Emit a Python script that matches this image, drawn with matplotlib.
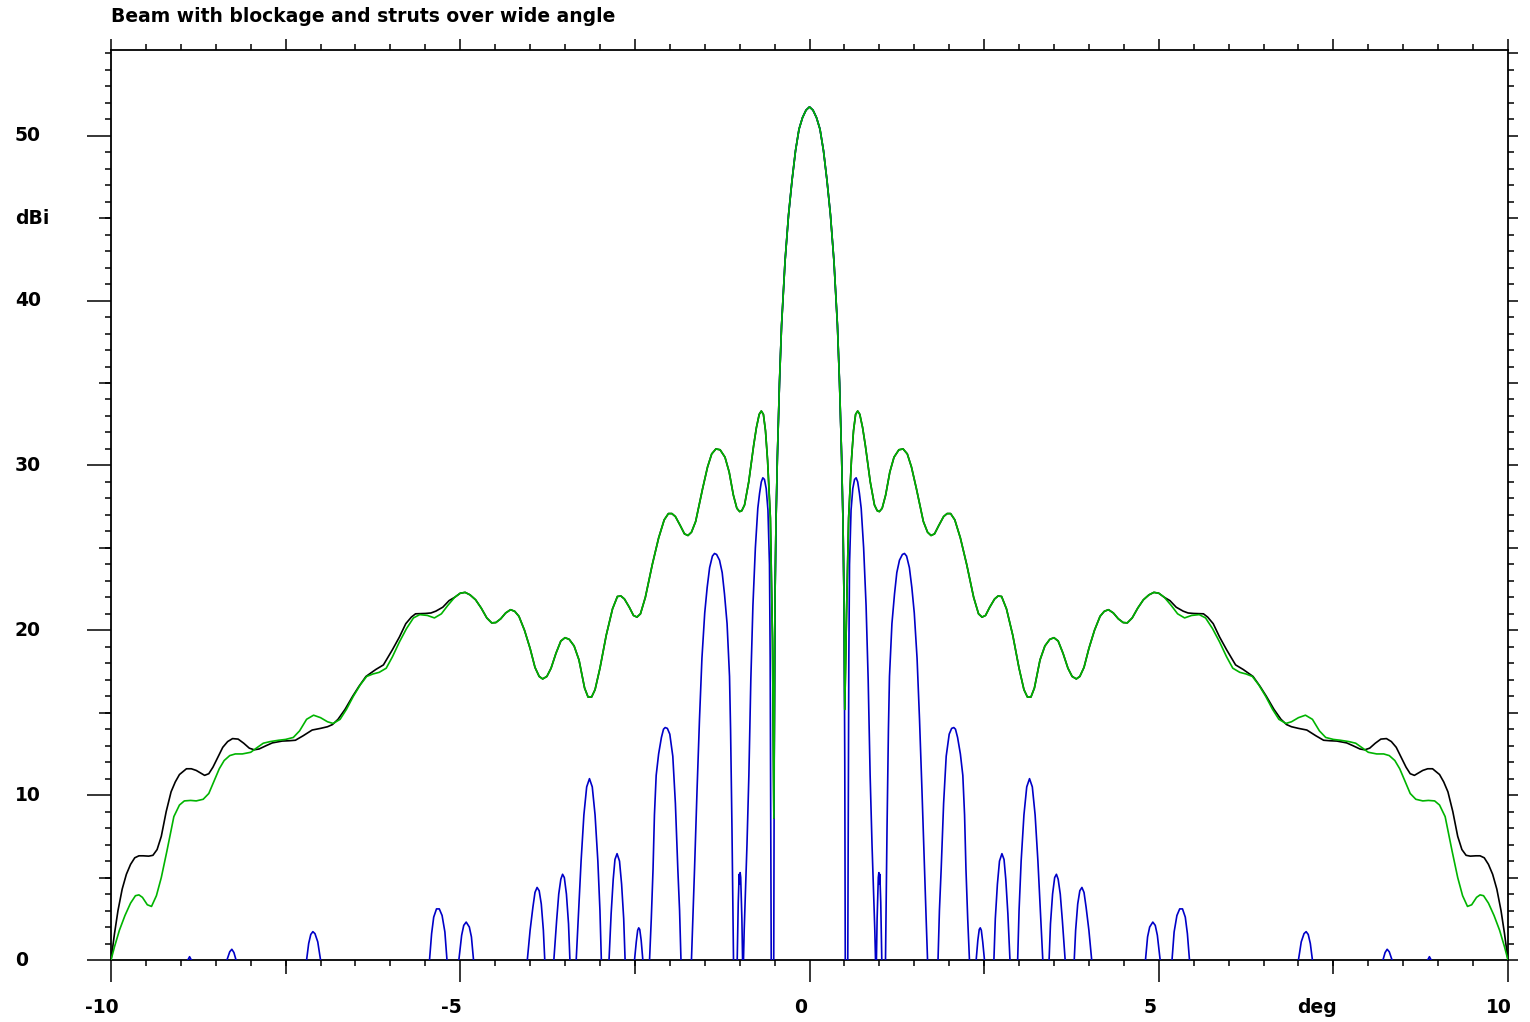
import matplotlib
matplotlib.use("Agg")
import matplotlib.pyplot as plt
from matplotlib.ticker import MultipleLocator, FixedLocator
from matplotlib.transforms import blended_transform_factory, offset_copy

nan = float("nan")

TITLE = "Beam with blockage and struts over wide angle"
X_LABELS = [-10, -5, 0, 5, 10]
Y_LABELS = [0, 10, 20, 30, 40, 50]

# central part, where blockage-only and blockage+struts patterns coincide
CORE_DEG = [
    -5.08, -5.00, -4.93, -4.86, -4.78, -4.70, -4.62, -4.55,
    -4.49, -4.42, -4.35, -4.28, -4.22, -4.16, -4.08, -4.00,
    -3.93, -3.87, -3.82, -3.76, -3.70, -3.63, -3.56, -3.50,
    -3.44, -3.37, -3.30, -3.22, -3.17, -3.12, -3.07, -3.00,
    -2.91, -2.82, -2.75, -2.70, -2.65, -2.58, -2.52, -2.47,
    -2.42, -2.35, -2.25, -2.16, -2.08, -2.02, -1.97, -1.92,
    -1.85, -1.79, -1.74, -1.69, -1.63, -1.53, -1.46, -1.40,
    -1.34, -1.28, -1.21, -1.15, -1.09, -1.04, -1.00, -0.97,
    -0.93, -0.87, -0.80, -0.76, -0.72, -0.69, -0.66, -0.63,
    -0.60, -0.56, -0.53, -0.51, -0.495, -0.48, -0.46, -0.43,
    -0.40, -0.35, -0.30, -0.25, -0.20, -0.15, -0.10, -0.05,
    0.00,
    0.05, 0.10, 0.15, 0.20, 0.25, 0.30, 0.35, 0.40,
    0.43, 0.46, 0.48, 0.495, 0.505, 0.53, 0.56, 0.60,
    0.63, 0.66, 0.69, 0.72, 0.76, 0.80, 0.87, 0.93,
    0.97, 1.00, 1.04, 1.09, 1.15, 1.21, 1.28, 1.34,
    1.40, 1.46, 1.53, 1.63, 1.69, 1.74, 1.79, 1.85,
    1.92, 1.97, 2.02, 2.08, 2.16, 2.25, 2.35, 2.42,
    2.47, 2.52, 2.58, 2.65, 2.70, 2.75, 2.82, 2.91,
    3.00, 3.07, 3.12, 3.17, 3.22, 3.30, 3.37, 3.44,
    3.50, 3.56, 3.63, 3.70, 3.76, 3.82, 3.87, 3.93,
    4.00, 4.08, 4.16, 4.22, 4.28, 4.35, 4.42, 4.49,
    4.55, 4.62, 4.70, 4.78, 4.86, 4.93, 5.00, 5.08,
]
CORE_DBI = [
    22.0, 22.25, 22.3, 22.15, 21.85, 21.35, 20.75, 20.45,
    20.47, 20.7, 21.05, 21.25, 21.15, 20.85, 20.0, 18.9,
    17.75, 17.2, 17.05, 17.2, 17.7, 18.6, 19.35, 19.55,
    19.45, 19.05, 18.2, 16.5, 15.95, 15.95, 16.4, 17.7,
    19.7, 21.3, 22.05, 22.08, 21.9, 21.4, 20.9, 20.8,
    21.0, 22.0, 24.0, 25.6, 26.7, 27.08, 27.08, 26.9,
    26.35, 25.85, 25.75, 25.95, 26.6, 28.6, 29.9, 30.7,
    31.0, 30.95, 30.5, 29.6, 28.2, 27.4, 27.2, 27.25,
    27.6, 29.0, 31.2, 32.3, 33.1, 33.3, 33.1, 32.1,
    30.3, 26.8, 19.5, 8.6, 21.5, 26.5, 30.5, 35.0,
    38.5, 42.4, 45.2, 47.3, 49.1, 50.4, 51.1, 51.55,
    51.75,
    51.55, 51.1, 50.4, 49.1, 47.3, 45.2, 42.4, 38.5,
    35.0, 30.5, 26.5, 21.5, 15.2, 21.0, 26.8, 30.3,
    32.1, 33.1, 33.3, 33.1, 32.3, 31.2, 29.0, 27.6,
    27.25, 27.2, 27.4, 28.2, 29.6, 30.5, 30.95, 31.0,
    30.7, 29.9, 28.6, 26.6, 25.95, 25.75, 25.85, 26.35,
    26.9, 27.08, 27.08, 26.7, 25.6, 24.0, 22.0, 21.0,
    20.8, 20.9, 21.4, 21.9, 22.08, 22.05, 21.3, 19.7,
    17.7, 16.4, 15.95, 15.95, 16.5, 18.2, 19.05, 19.45,
    19.55, 19.35, 18.6, 17.7, 17.2, 17.05, 17.2, 17.75,
    18.9, 20.0, 20.85, 21.15, 21.25, 21.05, 20.7, 20.47,
    20.45, 20.75, 21.35, 21.85, 22.15, 22.3, 22.25, 22.0,
]

# beam with blockage only (green), outer parts
GREEN_LEFT_DEG = [
    -10.00, -9.95, -9.88, -9.80, -9.72, -9.65, -9.60, -9.55,
    -9.48, -9.42, -9.35, -9.28, -9.20, -9.10, -9.02, -8.95,
    -8.86, -8.78, -8.68, -8.60, -8.53, -8.45, -8.38, -8.30,
    -8.22, -8.12, -8.00, -7.92, -7.82, -7.72, -7.60, -7.50,
    -7.39, -7.30, -7.20, -7.10, -7.00, -6.90, -6.82, -6.72,
    -6.63, -6.53, -6.43, -6.34, -6.25, -6.16, -6.06, -5.97,
    -5.87, -5.77, -5.67, -5.58, -5.47, -5.37, -5.27, -5.18,
]
GREEN_LEFT_DBI = [
    0.0, 0.8, 1.8, 2.7, 3.45, 3.9, 3.95, 3.8,
    3.35, 3.25, 3.9, 5.0, 6.6, 8.7, 9.4, 9.65,
    9.68, 9.65, 9.75, 10.1, 10.8, 11.6, 12.1, 12.4,
    12.5, 12.5, 12.6, 12.85, 13.15, 13.25, 13.33, 13.38,
    13.5, 13.9, 14.6, 14.85, 14.7, 14.45, 14.35, 14.6,
    15.2, 16.0, 16.7, 17.2, 17.35, 17.45, 17.7, 18.4,
    19.3, 20.1, 20.75, 20.95, 20.9, 20.75, 21.0, 21.5,
]
GREEN_RIGHT_DEG = [
    5.18, 5.27, 5.37, 5.47, 5.58, 5.67, 5.77, 5.87,
    5.97, 6.06, 6.16, 6.25, 6.34, 6.43, 6.53, 6.63,
    6.72, 6.82, 6.90, 7.00, 7.10, 7.20, 7.30, 7.39,
    7.50, 7.60, 7.72, 7.82, 7.92, 8.00, 8.12, 8.22,
    8.30, 8.38, 8.45, 8.53, 8.60, 8.68, 8.78, 8.86,
    8.95, 9.02, 9.10, 9.20, 9.28, 9.35, 9.42, 9.48,
    9.55, 9.60, 9.65, 9.72, 9.80, 9.88, 9.95, 10.00,
]
GREEN_RIGHT_DBI = [
    21.5, 21.0, 20.75, 20.9, 20.95, 20.75, 20.1, 19.3,
    18.4, 17.7, 17.45, 17.35, 17.2, 16.7, 16.0, 15.2,
    14.6, 14.35, 14.45, 14.7, 14.85, 14.6, 13.9, 13.5,
    13.38, 13.33, 13.25, 13.15, 12.85, 12.6, 12.5, 12.5,
    12.4, 12.1, 11.6, 10.8, 10.1, 9.75, 9.65, 9.68,
    9.65, 9.4, 8.7, 6.6, 5.0, 3.9, 3.25, 3.35,
    3.8, 3.95, 3.9, 3.45, 2.7, 1.8, 0.8, 0.0,
]

# beam with blockage and struts (black), outer parts
BLACK_LEFT_DEG = [
    -10.00, -9.95, -9.90, -9.84, -9.78, -9.72, -9.66, -9.60,
    -9.54, -9.46, -9.40, -9.34, -9.28, -9.21, -9.14, -9.08,
    -9.02, -8.92, -8.85, -8.78, -8.66, -8.60, -8.54, -8.47,
    -8.40, -8.33, -8.26, -8.18, -8.10, -8.02, -7.95, -7.88,
    -7.78, -7.69, -7.55, -7.45, -7.36, -7.25, -7.12, -7.00,
    -6.90, -6.83, -6.75, -6.65, -6.54, -6.45, -6.35, -6.21,
    -6.10, -5.97, -5.87, -5.78, -5.70, -5.64, -5.50, -5.42,
    -5.35, -5.25, -5.16,
]
BLACK_LEFT_DBI = [
    0.0, 1.6, 3.0, 4.3, 5.2, 5.8, 6.2, 6.32,
    6.32, 6.3, 6.35, 6.7, 7.5, 9.0, 10.2, 10.8,
    11.25, 11.6, 11.6, 11.5, 11.2, 11.3, 11.7, 12.3,
    12.9, 13.25, 13.43, 13.4, 13.15, 12.85, 12.75, 12.8,
    13.0, 13.17, 13.28, 13.3, 13.33, 13.6, 13.95, 14.05,
    14.15, 14.28, 14.6, 15.2, 16.0, 16.6, 17.2, 17.62,
    17.9, 18.83, 19.6, 20.4, 20.8, 21.0, 21.02, 21.05,
    21.16, 21.4, 21.8,
]
BLACK_RIGHT_DEG = [
    5.16, 5.25, 5.35, 5.42, 5.50, 5.64, 5.70, 5.78,
    5.87, 5.97, 6.10, 6.21, 6.35, 6.45, 6.54, 6.65,
    6.75, 6.83, 6.90, 7.00, 7.12, 7.25, 7.36, 7.45,
    7.55, 7.69, 7.78, 7.88, 7.95, 8.02, 8.10, 8.18,
    8.26, 8.33, 8.40, 8.47, 8.54, 8.60, 8.66, 8.78,
    8.85, 8.92, 9.02, 9.08, 9.14, 9.21, 9.28, 9.34,
    9.40, 9.46, 9.54, 9.60, 9.66, 9.72, 9.78, 9.84,
    9.90, 9.95, 10.00,
]
BLACK_RIGHT_DBI = [
    21.8, 21.4, 21.16, 21.05, 21.02, 21.0, 20.8, 20.4,
    19.6, 18.83, 17.9, 17.62, 17.2, 16.6, 16.0, 15.2,
    14.6, 14.28, 14.15, 14.05, 13.95, 13.6, 13.33, 13.3,
    13.28, 13.17, 13.0, 12.8, 12.75, 12.85, 13.15, 13.4,
    13.43, 13.25, 12.9, 12.3, 11.7, 11.3, 11.2, 11.5,
    11.6, 11.6, 11.25, 10.8, 10.2, 9.0, 7.5, 6.7,
    6.35, 6.3, 6.32, 6.32, 6.2, 5.8, 5.2, 4.3,
    3.0, 1.6, 0.0,
]

# unblocked aperture (blue), lobes separated where the pattern drops below 0 dBi
BLUE_DEG = [
    -8.90, -8.875, -8.85, nan,
    -8.34, -8.30, -8.27, -8.24, -8.21, nan,
    -7.20, -7.17, -7.14, -7.11, -7.08, -7.04, -7.00, nan,
    -5.44, -5.41, -5.38, -5.34, -5.30, -5.26, -5.22, -5.19, nan,
    -5.02, -4.98, -4.95, -4.915, -4.87, -4.84, -4.81, nan,
    -4.04, -4.00, -3.96, -3.93, -3.90, -3.87, -3.84, -3.81, -3.79, nan,
    -3.66, -3.62, -3.59, -3.56, -3.535, -3.51, -3.48, -3.45, -3.43, nan,
    -3.34, -3.30, -3.27, -3.23, -3.19, -3.15, -3.11, -3.07, -3.03, -3.00, -2.98, nan,
    -2.87, -2.84, -2.81, -2.785, -2.755, -2.72, -2.69, -2.66, -2.64, nan,
    -2.505, -2.48, -2.46, -2.445, -2.43, -2.41, -2.386, nan,
    -2.29, -2.265, -2.24, -2.22, -2.195, -2.16, -2.12, -2.09, -2.066, -2.035, -2.00, -1.957, -1.92, -1.885, -1.86, -1.84, nan,
    -1.69, -1.67, -1.646, -1.61, -1.575, -1.54, -1.50, -1.465, -1.43, -1.39, -1.36, -1.33, -1.288, -1.25, -1.217, -1.18, -1.145, -1.13, -1.11, -1.088, nan,
    -1.035, -1.02, -1.007, -1.00, -0.993, -0.985, -0.968, -0.958, nan,
    -0.945, -0.935, -0.916, -0.895, -0.868, -0.84, -0.81, -0.775, -0.74, -0.715, -0.69, -0.668, -0.645, -0.62, -0.595, -0.573, -0.563, -0.556, -0.548, nan,
    -0.512, -0.505, -0.495, -0.48, -0.46, -0.43, -0.40, -0.35, -0.30, -0.25, -0.20, -0.15, -0.10, -0.05, 0.00,
    0.05, 0.10, 0.15, 0.20, 0.25, 0.30, 0.35, 0.40, 0.43, 0.46, 0.48, 0.495, 0.505, 0.512, nan,
    0.548, 0.556, 0.563, 0.573, 0.595, 0.62, 0.645, 0.668, 0.69, 0.715, 0.74, 0.775, 0.81, 0.84, 0.868, 0.895, 0.916, 0.935, 0.945, nan,
    0.958, 0.968, 0.985, 0.993, 1.00, 1.007, 1.02, 1.035, nan,
    1.088, 1.11, 1.13, 1.145, 1.18, 1.217, 1.25, 1.288, 1.33, 1.36, 1.39, 1.43, 1.465, 1.50, 1.54, 1.575, 1.61, 1.646, 1.67, 1.69, nan,
    1.84, 1.86, 1.885, 1.92, 1.957, 2.00, 2.035, 2.066, 2.09, 2.12, 2.16, 2.195, 2.22, 2.24, 2.265, 2.29, nan,
    2.386, 2.41, 2.43, 2.445, 2.46, 2.48, 2.505, nan,
    2.64, 2.66, 2.69, 2.72, 2.755, 2.785, 2.81, 2.84, 2.87, nan,
    2.98, 3.00, 3.03, 3.07, 3.11, 3.15, 3.19, 3.23, 3.27, 3.30, 3.34, nan,
    3.43, 3.45, 3.48, 3.51, 3.535, 3.56, 3.59, 3.62, 3.66, nan,
    3.79, 3.81, 3.84, 3.87, 3.90, 3.93, 3.96, 4.00, 4.04, nan,
    4.81, 4.84, 4.87, 4.915, 4.95, 4.98, 5.02, nan,
    5.19, 5.22, 5.26, 5.30, 5.34, 5.38, 5.41, 5.44, nan,
    7.00, 7.04, 7.08, 7.11, 7.14, 7.17, 7.20, nan,
    8.21, 8.24, 8.27, 8.30, 8.34, nan,
    8.85, 8.875, 8.90,
]
BLUE_DBI = [
    0.0, 0.2, 0.0, nan,
    0.0, 0.5, 0.65, 0.45, 0.0, nan,
    0.0, 1.0, 1.55, 1.72, 1.6, 1.1, 0.0, nan,
    0.0, 1.6, 2.6, 3.1, 3.1, 2.7, 1.7, 0.0, nan,
    0.0, 1.5, 2.1, 2.3, 2.0, 1.4, 0.0, nan,
    0.0, 1.8, 3.2, 4.1, 4.4, 4.2, 3.4, 1.8, 0.0, nan,
    0.0, 2.4, 4.0, 4.9, 5.2, 5.0, 4.0, 2.2, 0.0, nan,
    0.0, 3.4, 6.0, 8.8, 10.5, 11.0, 10.5, 8.8, 6.0, 3.0, 0.0, nan,
    0.0, 2.8, 4.9, 6.1, 6.45, 6.0, 4.6, 2.5, 0.0, nan,
    0.0, 1.1, 1.8, 1.95, 1.85, 1.2, 0.0, nan,
    0.0, 2.5, 5.5, 8.8, 11.2, 12.5, 13.5, 14.0, 14.1, 14.05, 13.7, 12.36, 9.5, 5.5, 3.0, 0.0, nan,
    0.0, 2.5, 5.5, 10.3, 14.6, 18.3, 21.05, 22.6, 23.8, 24.5, 24.66, 24.6, 24.25, 23.5, 22.2, 20.4, 17.2, 14.0, 8.0, 0.0, nan,
    0.0, 3.5, 5.2, 4.6, 5.3, 5.0, 2.5, 0.0, nan,
    0.0, 1.8, 4.3, 7.0, 11.2, 17.0, 21.5, 25.0, 27.4, 28.3, 29.0, 29.25, 29.15, 28.6, 27.3, 24.0, 18.3, 10.0, 0.0, nan,
    0.0, 12.0, 21.5, 26.5, 30.5, 35.0, 38.5, 42.4, 45.2, 47.3, 49.1, 50.4, 51.1, 51.55, 51.75,
    51.55, 51.1, 50.4, 49.1, 47.3, 45.2, 42.4, 38.5, 35.0, 30.5, 26.5, 21.5, 12.0, 0.0, nan,
    0.0, 10.0, 18.3, 24.0, 27.3, 28.6, 29.15, 29.25, 29.0, 28.3, 27.4, 25.0, 21.5, 17.0, 11.2, 7.0, 4.3, 1.8, 0.0, nan,
    0.0, 2.5, 5.0, 5.3, 4.6, 5.2, 3.5, 0.0, nan,
    0.0, 8.0, 14.0, 17.2, 20.4, 22.2, 23.5, 24.25, 24.6, 24.66, 24.5, 23.8, 22.6, 21.05, 18.3, 14.6, 10.3, 5.5, 2.5, 0.0, nan,
    0.0, 3.0, 5.5, 9.5, 12.36, 13.7, 14.05, 14.1, 14.0, 13.5, 12.5, 11.2, 8.8, 5.5, 2.5, 0.0, nan,
    0.0, 1.2, 1.85, 1.95, 1.8, 1.1, 0.0, nan,
    0.0, 2.5, 4.6, 6.0, 6.45, 6.1, 4.9, 2.8, 0.0, nan,
    0.0, 3.0, 6.0, 8.8, 10.5, 11.0, 10.5, 8.8, 6.0, 3.4, 0.0, nan,
    0.0, 2.2, 4.0, 5.0, 5.2, 4.9, 4.0, 2.4, 0.0, nan,
    0.0, 1.8, 3.4, 4.2, 4.4, 4.1, 3.2, 1.8, 0.0, nan,
    0.0, 1.4, 2.0, 2.3, 2.1, 1.5, 0.0, nan,
    0.0, 1.7, 2.7, 3.1, 3.1, 2.6, 1.6, 0.0, nan,
    0.0, 1.1, 1.6, 1.72, 1.55, 1.0, 0.0, nan,
    0.0, 0.45, 0.65, 0.5, 0.0, nan,
    0.0, 0.2, 0.0,
]

green_deg = GREEN_LEFT_DEG + CORE_DEG + GREEN_RIGHT_DEG
green_dbi = GREEN_LEFT_DBI + CORE_DBI + GREEN_RIGHT_DBI
black_deg = BLACK_LEFT_DEG + CORE_DEG + BLACK_RIGHT_DEG
black_dbi = BLACK_LEFT_DBI + CORE_DBI + BLACK_RIGHT_DBI

W, H = 1530, 1022
TEXT = dict(family="DejaVu Sans", fontweight="bold", fontsize=13.5, color="black")

fig = plt.figure(figsize=(W / 100, H / 100), dpi=100)
ax = fig.add_axes([111 / W, 62 / H, 1397 / W, 910 / H])

ax.plot(black_deg, black_dbi, color="black", lw=1.2, zorder=2)
ax.plot(BLUE_DEG, BLUE_DBI, color="#0000c8", lw=1.2, zorder=3)
ax.plot(green_deg, green_dbi, color="#00b400", lw=1.2, zorder=4)

ax.set_xlim(-10, 10)
ax.set_ylim(0, 55.2)
for sp in ax.spines.values():
    sp.set_linewidth(1.3)

# bottom: long ticks every 5, short every 0.5, medium at the 2.5 marks
ax.xaxis.set_major_locator(FixedLocator(X_LABELS))
ax.xaxis.set_minor_locator(MultipleLocator(0.5))
ax.tick_params(axis="x", which="major", length=15.8, width=1.1, labelbottom=False)
ax.tick_params(axis="x", which="minor", length=4.3, width=1.1)
mid_x = ax.secondary_xaxis("bottom")
mid_x.set_xticks([-7.5, -2.5, 2.5, 7.5])
mid_x.tick_params(length=10, width=1.1, labelbottom=False)
mid_x.spines["bottom"].set_visible(False)

# left: long ticks every 10, medium every 5, short every 1
ax.yaxis.set_major_locator(MultipleLocator(10))
ax.yaxis.set_minor_locator(MultipleLocator(1))
ax.tick_params(axis="y", which="major", length=17.3, width=1.1, labelleft=False)
ax.tick_params(axis="y", which="minor", length=4.3, width=1.1)
mid_y = ax.secondary_yaxis("left")
mid_y.set_yticks([5, 15, 25, 35, 45])
mid_y.tick_params(length=8.6, width=1.1, labelleft=False)
mid_y.spines["left"].set_visible(False)

# top and right scales
top = ax.secondary_xaxis("top")
top.xaxis.set_major_locator(MultipleLocator(2.5))
top.xaxis.set_minor_locator(MultipleLocator(0.5))
top.tick_params(which="major", length=8, width=1.1, labeltop=False, labelbottom=False)
top.tick_params(which="minor", length=4.3, width=1.1)
top.spines["top"].set_visible(False)

right = ax.secondary_yaxis("right")
right.yaxis.set_major_locator(MultipleLocator(5))
right.yaxis.set_minor_locator(MultipleLocator(1))
right.tick_params(which="major", length=7.2, width=1.1, labelright=False, labelleft=False)
right.tick_params(which="minor", length=4.3, width=1.1)
right.spines["right"].set_visible(False)

# tick labels
ylab = blended_transform_factory(fig.transFigure, ax.transData)
for v in Y_LABELS:
    ax.text(15 / W, v, str(v), transform=ylab, ha="left", va="center", **TEXT)
ax.text(15 / W, 45, "dBi", transform=ylab, ha="left", va="center", **TEXT)

xlab = offset_copy(blended_transform_factory(ax.transData, fig.transFigure),
                   fig=fig, x=-9, y=0, units="dots")
for v in X_LABELS:
    ax.text(v, 1 - 1007 / H, str(v), transform=xlab, ha="center", va="center", **TEXT)
ax.text(7.4, 1 - 1007 / H, "deg", transform=xlab, ha="center", va="center", **TEXT)

fig.text(111 / W, 1 - 17 / H, TITLE, ha="left", va="center", **TEXT)

fig.savefig("out.png", dpi=100)
